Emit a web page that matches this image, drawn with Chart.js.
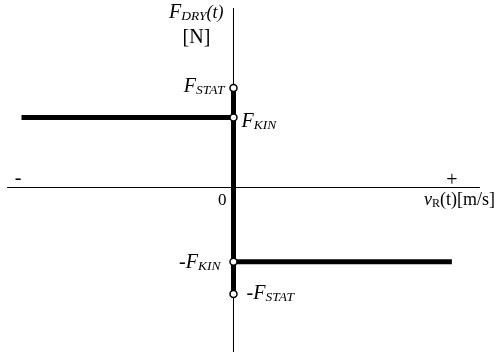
<!DOCTYPE html>
<html>
<head>
<meta charset="utf-8">
<script src="https://cdn.jsdelivr.net/npm/chart.js@4.4.0/dist/chart.umd.min.js"></script>
<style>
  html, body { margin: 0; padding: 0; background: #fff; }
  #wrap { width: 496px; height: 352px; }
</style>
</head>
<body>
<div id="wrap"><canvas id="chart" width="496" height="352"></canvas></div>
<script>
// friction levels on the force axis (F_STAT, F_KIN, -F_KIN, -F_STAT)
const levelNames = ['F_STAT', 'F_KIN', '-F_KIN', '-F_STAT'];
const levelValues = [1.42, 1, -1.06, -1.52];
// ends of the two kinetic branches on the speed axis
const branchEnds = [-1, 1.03];
// extent of the drawn axes
const axisXRange = [-1.068, 1.162];
const axisYRange = [-2.35, 2.56];
const scaleX = [-1.1014, 1.2382];
const scaleY = [-2.35, 2.6786];

const serif = '"Liberation Serif", "DejaVu Serif", serif';

// draw a run of text pieces: [text, font, dy]
function drawPieces(ctx, pieces, x, y, align) {
    let total = 0;
    pieces.forEach(p => { ctx.font = p[1]; total += ctx.measureText(p[0]).width; });
    let cx = align === 'right' ? x - total : align === 'center' ? x - total / 2 : x;
    ctx.textAlign = 'left';
    ctx.textBaseline = 'alphabetic';
    pieces.forEach(p => {
        ctx.font = p[1];
        ctx.fillText(p[0], cx, y + (p[2] || 0));
        cx += ctx.measureText(p[0]).width;
    });
}

function forceLabel(name) {
    const neg = name.startsWith('-');
    const sub = name.replace('-', '').split('_')[1];
    const pieces = [];
    if (neg) pieces.push(['-', '20px ' + serif, 0]);
    pieces.push(['F', 'italic 20px ' + serif, 0]);
    pieces.push([sub, 'italic 13.5px ' + serif, 2]);
    return pieces;
}

const labelPlugin = {
    id: 'labels',
    afterDatasetsDraw(chart) {
        const ctx = chart.ctx;
        const xs = chart.scales.x, ys = chart.scales.y;
        const x0 = xs.getPixelForValue(0);
        const y0 = ys.getPixelForValue(0);
        ctx.save();
        ctx.fillStyle = '#000';
        // level labels
        const offsets = [
            { dx: -9, dy: 4, align: 'right' },
            { dx: 8, dy: 9, align: 'left' },
            { dx: -13, dy: 6, align: 'right' },
            { dx: 13, dy: 5, align: 'left' }
        ];
        levelNames.forEach((n, i) => {
            const o = offsets[i];
            drawPieces(ctx, forceLabel(n), x0 + o.dx, ys.getPixelForValue(levelValues[i]) + o.dy, o.align);
        });
        // vertical axis title
        drawPieces(ctx, [
            ['F', 'italic 20px ' + serif, 0],
            ['DRY', 'italic 13.5px ' + serif, 2],
            ['(t)', 'italic 18px ' + serif, 0]
        ], x0 - 10, 18, 'right');
        drawPieces(ctx, [['[N]', '20px ' + serif, 0]], x0 - 37, 43, 'center');
        // origin
        drawPieces(ctx, [['0', '17px ' + serif, 0]], x0 - 7, y0 + 17, 'right');
        // horizontal axis title
        drawPieces(ctx, [
            ['v', 'italic 18px ' + serif, 0],
            ['R', '12px ' + serif, 2],
            ['(t)[m/s]', '18px ' + serif, 0]
        ], 495, y0 + 17, 'right');
        drawPieces(ctx, [['+', '20px ' + serif, 0]], 452, y0 - 2, 'center');
        drawPieces(ctx, [['-', '20px ' + serif, 0]], 18, y0 - 4, 'center');
        ctx.restore();
    }
};

const thin = { borderColor: '#000', borderWidth: 1, pointRadius: 0, showLine: true, fill: false };
const thick = { borderColor: '#000', borderWidth: 5, pointRadius: 0, showLine: true, fill: false, borderCapStyle: 'butt' };

const ctx = document.getElementById('chart').getContext('2d');
new Chart(ctx, {
    type: 'scatter',
    data: {
        datasets: [
            {
                // open circles at the friction levels
                data: levelValues.map(v => ({ x: 0, y: v })),
                pointRadius: 3.5,
                pointBackgroundColor: '#fff',
                pointBorderColor: '#000',
                pointBorderWidth: 1.5,
                showLine: false,
                order: 0
            },
            Object.assign({ data: [{ x: branchEnds[0], y: levelValues[1] }, { x: 0, y: levelValues[1] }], order: 1 }, thick),
            Object.assign({ data: [{ x: 0, y: levelValues[0] }, { x: 0, y: levelValues[3] }], order: 1 }, thick),
            Object.assign({ data: [{ x: 0, y: levelValues[2] }, { x: branchEnds[1], y: levelValues[2] }], order: 1 }, thick),
            Object.assign({ data: [{ x: axisXRange[0], y: 0 }, { x: axisXRange[1], y: 0 }], order: 2 }, thin),
            Object.assign({ data: [{ x: 0, y: axisYRange[1] }, { x: 0, y: axisYRange[0] }], order: 2 }, thin)
        ]
    },
    options: {
        responsive: false,
        animation: false,
        layout: { padding: 0, autoPadding: false },
        plugins: { legend: { display: false }, tooltip: { enabled: false } },
        scales: {
            x: { type: 'linear', min: scaleX[0], max: scaleX[1], display: false },
            y: { type: 'linear', min: scaleY[0], max: scaleY[1], display: false }
        }
    },
    plugins: [labelPlugin]
});
</script>
</body>
</html>
